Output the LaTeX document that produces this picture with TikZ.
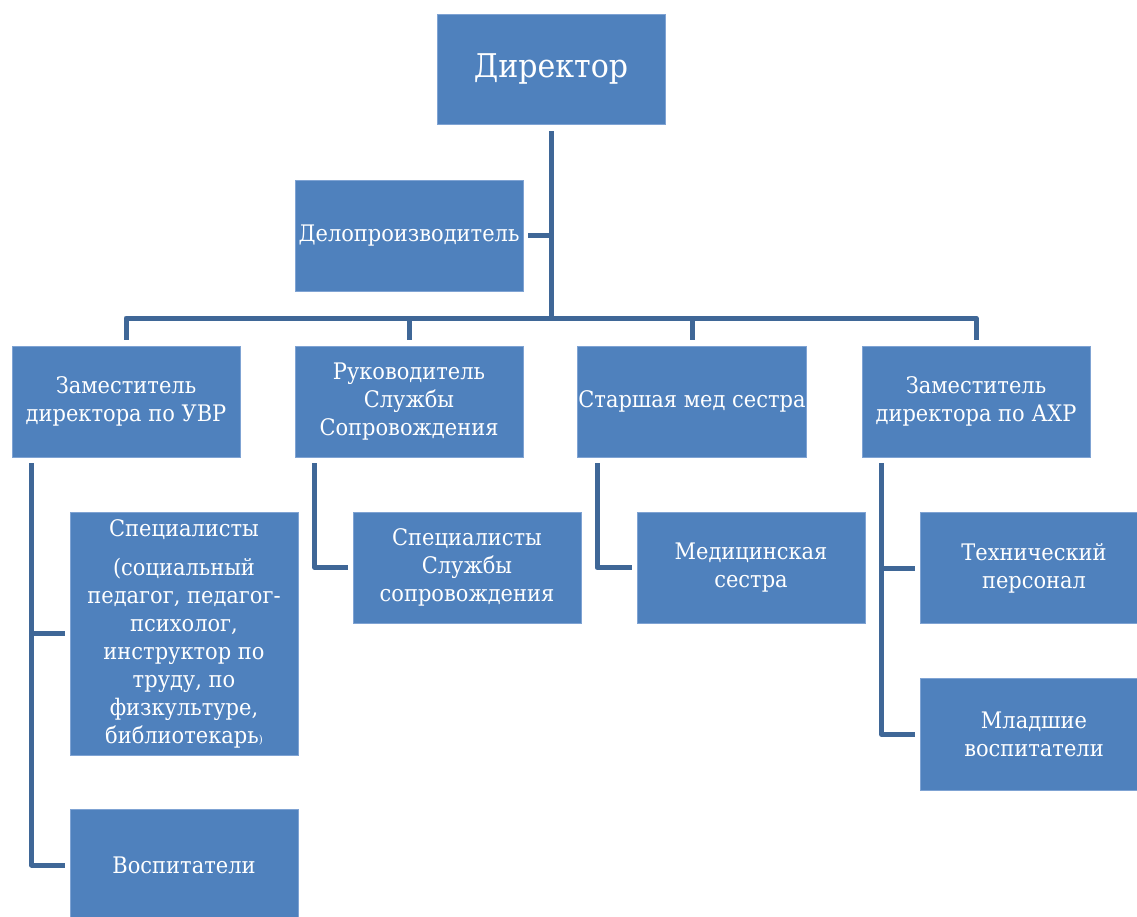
\documentclass[tikz,border=0pt]{standalone}
\usepackage{fontspec}
\setmainfont{DejaVu Serif}[Scale=0.86, FakeStretch=0.92]
\definecolor{boxblue}{HTML}{4F81BD}
\definecolor{boxedge}{HTML}{7FA3D3}
\definecolor{linkblue}{HTML}{3F6797}
\tikzset{
  unit/.style={fill=boxblue, draw=boxedge, line width=0.8pt, text=white,
    minimum width=228pt, minimum height=111pt, inner sep=1pt, align=center,
    font=\fontsize{26.5}{28}\selectfont},
  link/.style={draw=linkblue, line width=5pt, line join=round}
}
\begin{document}
\begin{tikzpicture}[x=1pt, y=-1pt]
\useasboundingbox (0, 0) rectangle (1137, 917);
\clip (0, 0) rectangle (1137, 917);

\node[unit, minimum height=110pt, font=\fontsize{38}{40}\selectfont] (dir) at (551, 69) {Директор};
\node[unit] (delo) at (409, 235.5) {Делопроизводитель};

\node[unit] (uvr) at (126, 401.5) {Заместитель\\директора по УВР};
\node[unit] (ruk) at (409, 401.5) {Руководитель\\Службы\\Сопровождения};
\node[unit] (stmed) at (692, 401.5) {Старшая мед сестра};
\node[unit] (ahr) at (976, 401.5) {Заместитель\\директора по АХР};

\node[unit, minimum height=243pt] (spec) at (184, 633.5) {Специалисты\\[11pt](социальный\\педагог, педагог-\\психолог,\\инструктор по\\труду, по\\физкультуре,\\библиотекарь{\fontsize{13}{13}\selectfont)}};
\node[unit] (vosp) at (184, 865) {Воспитатели};
\node[unit] (sluzh) at (467, 567.5) {Специалисты\\Службы\\сопровождения};
\node[unit] (medsis) at (751, 567.5) {Медицинская\\сестра};
\node[unit] (tech) at (1034, 568) {Технический\\персонал};
\node[unit, minimum height=112pt] (mlad) at (1034, 734.5) {Младшие\\воспитатели};

\coordinate (hub) at (551, 318);

\path[link] ([yshift=-7pt]dir.south) -- (hub);
\path[link] ([xshift=5pt]delo.east) -- (delo.east -| hub);
\path[link] ([yshift=6pt]uvr.north) |- (hub) -| ([yshift=6pt]ahr.north);
\path[link] ([yshift=6pt]ruk.north) -- (ruk.north |- hub);
\path[link] ([yshift=6pt]stmed.north) -- (stmed.north |- hub);

\path[link] ([shift={(20pt,-6pt)}]uvr.south west) |- ([xshift=-5pt]vosp.west);
\path[link] ([xshift=-5pt]spec.west) -- ++(-33pt, 0pt);
\path[link] ([shift={(20pt,-6pt)}]ruk.south west) |- ([xshift=-5pt]sluzh.west);
\path[link] ([shift={(20pt,-6pt)}]stmed.south west) |- ([xshift=-5pt]medsis.west);
\path[link] ([shift={(20pt,-6pt)}]ahr.south west) |- ([xshift=-5pt]mlad.west);
\path[link] ([xshift=-5pt]tech.west) -- ++(-33pt, 0pt);

\end{tikzpicture}
\end{document}
